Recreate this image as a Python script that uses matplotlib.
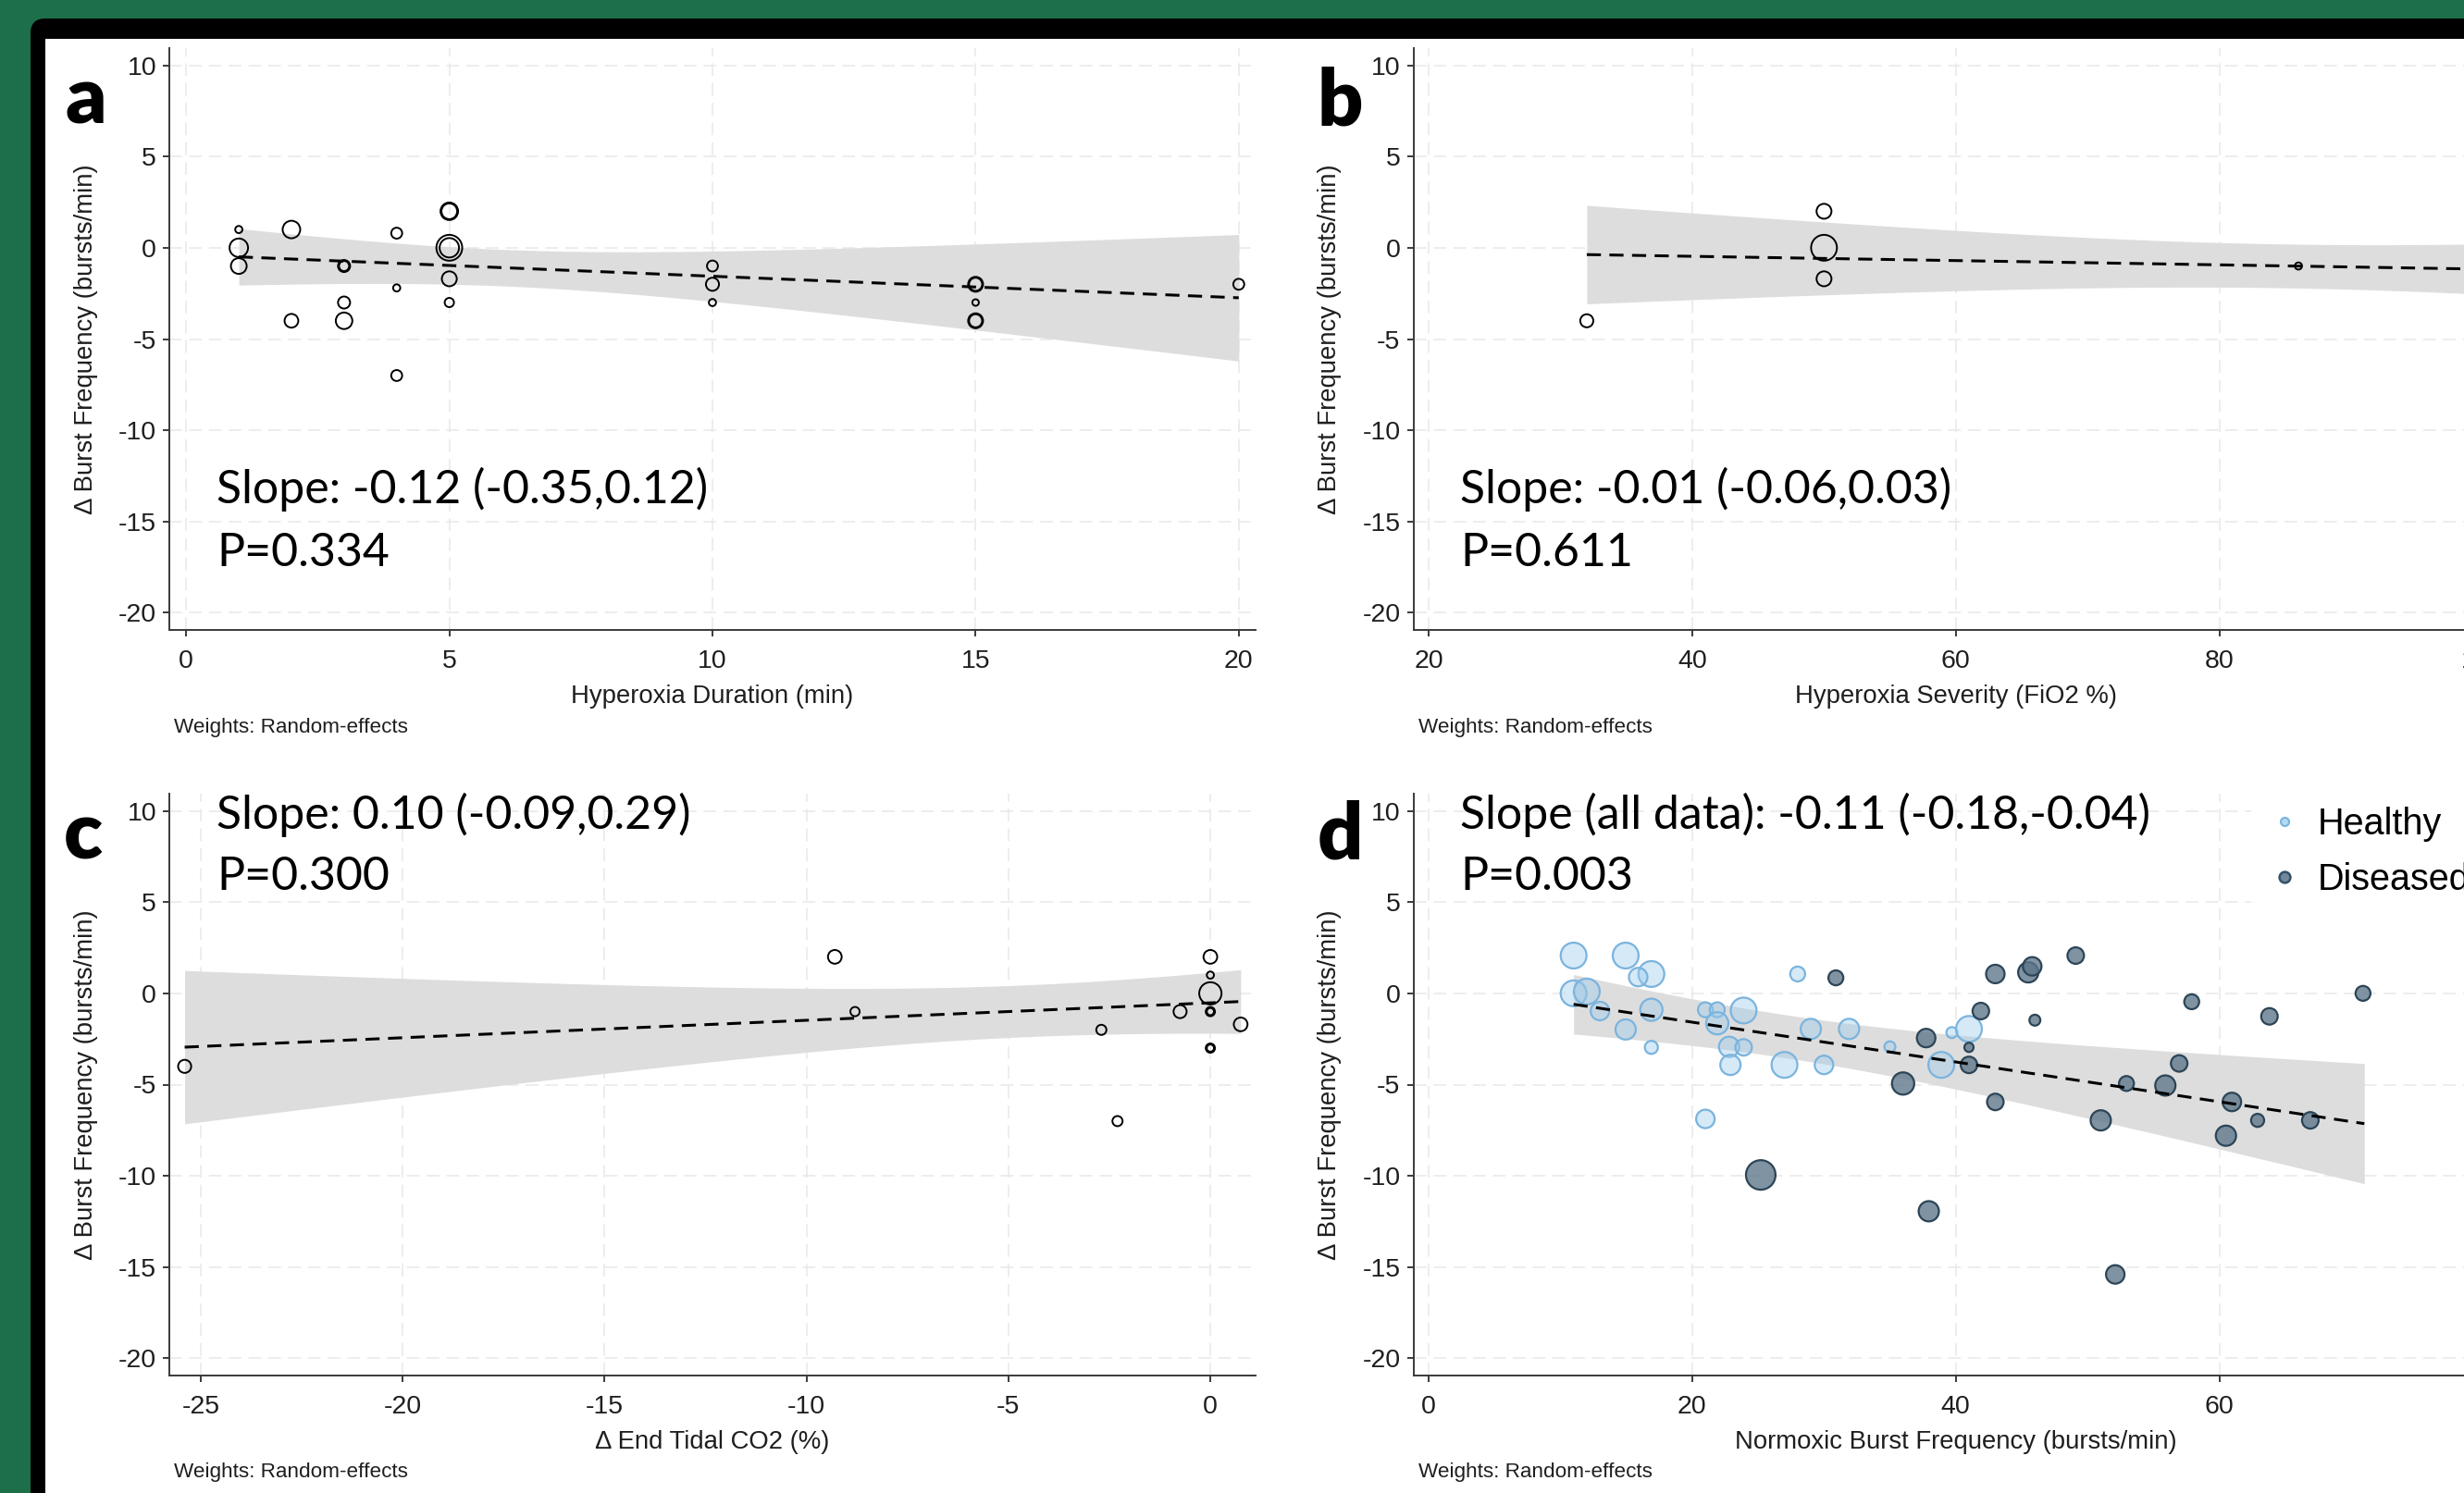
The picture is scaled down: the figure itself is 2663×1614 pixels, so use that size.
import numpy as np
import matplotlib
matplotlib.use("Agg")
import matplotlib.pyplot as plt
from matplotlib.patches import FancyBboxPatch, Rectangle
from matplotlib.lines import Line2D
from matplotlib.transforms import IdentityTransform

# --- data ---
# a: hyperoxia duration (min)
dur_x = [1, 1, 1, 2, 2, 3, 3, 3, 3, 4, 4, 4, 5, 5, 5, 5, 5, 5,
         10, 10, 10, 15, 15, 15, 15, 15, 20]
dur_y = [1, 0, -1, 1, -4, -1, -1, -3, -4, 0.8, -2.2, -7, 2, 2, 0, 0, -1.7, -3,
         -1, -2, -3, -2, -2, -3, -4, -4, -2]
dur_w = [0.6, 4.0, 2.9, 3.6, 2.2, 1.2, 1.7, 1.7, 3.2, 1.4, 0.6, 1.4, 2.9, 3.6, 7.8, 4.4, 2.6, 1.0,
         1.4, 2.0, 0.6, 2.0, 2.6, 0.5, 2.0, 2.6, 1.4]

# b: hyperoxia severity (FiO2 %)
fio2_x = [32, 50, 50, 50, 86]
fio2_y = [-4, 2, 0, -1.7, -1]
fio2_w = [2.0, 2.6, 7.8, 2.6, 0.6]

# c: change in end tidal CO2 (%)
co2_x = [-25.4, -9.3, -8.8, -2.7, -2.3, -0.75, 0, 0, 0, 0, 0, 0, 0, 0.75]
co2_y = [-4, 2, -1, -2, -7, -1, 2, 1, 0, -1, -1, -3, -3, -1.7]
co2_w = [2.0, 2.2, 1.0, 1.2, 1.2, 2.0, 2.2, 0.6, 5.8, 1.0, 0.6, 1.0, 0.6, 2.2]

# d: normoxic burst frequency, healthy vs diseased
healthy_x = [11.0, 14.95, 16.9, 15.9, 11.0, 12.0, 13.0, 14.95, 16.9, 16.9, 21.0, 21.9, 21.9, 23.9,
             22.8, 23.9, 22.9, 27.0, 30.0, 28.0, 29.0, 31.9, 35.0, 21.0, 39.7, 41.0, 38.9]
healthy_y = [2.07, 2.07, 1.06, 0.89, 0.0, 0.1, -0.97, -1.98, -0.9, -2.96, -0.9, -0.9, -1.64, -0.94,
             -2.93, -2.96, -3.92, -3.92, -3.92, 1.06, -1.95, -1.95, -2.93, -6.88, -2.15, -1.95, -3.92]
healthy_w = [7.8, 7.8, 7.8, 4.0, 7.8, 7.8, 4.0, 4.8, 5.8, 2.0, 2.6, 2.6, 5.8, 7.8,
             4.8, 3.2, 4.8, 7.8, 4.0, 2.6, 4.8, 4.8, 1.4, 4.0, 1.4, 7.8, 7.8]
diseased_x = [30.9, 43.0, 45.5, 45.8, 49.1, 70.9, 57.9, 63.8, 41.9, 46.0, 37.75, 41.0, 41.0,
              36.0, 43.0, 56.95, 52.95, 55.9, 60.95, 62.9, 66.9, 51.0, 60.5, 25.2, 37.95, 52.1]
diseased_y = [0.85, 1.06, 1.15, 1.48, 2.07, 0.0, -0.46, -1.26, -0.97, -1.47, -2.45, -2.96, -3.92,
              -4.94, -5.95, -3.84, -4.94, -5.05, -5.95, -6.96, -6.96, -6.96, -7.8, -9.95, -11.94, -15.4]
diseased_w = [2.6, 4.0, 4.8, 4.0, 3.2, 2.6, 2.6, 3.2, 3.2, 1.4, 4.0, 1.0, 3.2,
              5.8, 3.2, 3.2, 2.6, 4.8, 4.0, 2.0, 3.2, 4.8, 4.8, 10.2, 4.8, 4.0]

# meta-regression fits: intercept, slope, x of narrowest CI, CI half-width there, CI growth, x range
fit_a = dict(a=-0.38, b=-0.118, xm=6.0, h0=1.0, c=0.237, x0=1, x1=20)
fit_b = dict(a=0.0, b=-0.0117, xm=85.0, h0=1.2, c=0.0456, x0=32, x1=100)
fit_c = dict(a=-0.52, b=0.0956, xm=-4.6, h0=1.42, c=0.19, x0=-25.4, x1=0.75)
fit_d = dict(a=0.6, b=-0.109, xm=27.1, h0=1.18, c=0.07, x0=11, x1=71)

slope_txt = ["Slope: -0.12 (-0.35,0.12)", "Slope: -0.01 (-0.06,0.03)",
             "Slope: 0.10 (-0.09,0.29)", "Slope (all data): -0.11 (-0.18,-0.04)"]
p_txt = ["P=0.334", "P=0.611", "P=0.300", "P=0.003"]
x_labels = ["Hyperoxia Duration (min)", "Hyperoxia Severity (FiO2 %)",
            "\u0394 End Tidal CO2 (%)", "Normoxic Burst Frequency (bursts/min)"]
y_label = "\u0394 Burst Frequency (bursts/min)"
y_ticks = [10, 5, 0, -5, -10, -15, -20]

# --- figure setup ---
STATA = ["Liberation Sans", "DejaVu Sans"]
NOTE = ["Lato", "DejaVu Sans"]
plt.rcParams["font.family"] = STATA
plt.rcParams["axes.unicode_minus"] = False

W, H, DPI = 2663, 1614, 100
fig = plt.figure(figsize=(W / DPI, H / DPI), dpi=DPI, facecolor="#1d6f49")

# black slide frame + white panel
fig.add_artist(FancyBboxPatch((33, -80), W + 100, H - 20 + 80,
                              boxstyle="round,pad=0,rounding_size=16",
                              transform=IdentityTransform(), fc="black", ec="none", zorder=-10))
fig.add_artist(Rectangle((49, -80), W + 100, H - 42 + 80,
                         transform=IdentityTransform(), fc="white", ec="none", zorder=-9))


def box(x0, y0, x1, y1):
    return [x0 / W, 1 - y1 / H, (x1 - x0) / W, (y1 - y0) / H]


ax_a = fig.add_axes(box(183, 52, 1357, 681))
ax_b = fig.add_axes(box(1527.5, 52, 2700, 681))
ax_c = fig.add_axes(box(183, 858, 1357, 1487))
ax_d = fig.add_axes(box(1527.5, 858, 2700, 1487))

AX_COL = "#3a3a3a"
SCALE = 51.8  # marker area per unit weight


def style(ax, xlim, xticks, xlabel):
    ax.set_xlim(*xlim)
    ax.set_ylim(-20.94, 10.94)
    ax.set_xticks(xticks)
    ax.set_yticks(y_ticks)
    ax.set_facecolor("none")
    for s in ("top", "right"):
        ax.spines[s].set_visible(False)
    for s in ("left", "bottom"):
        ax.spines[s].set_color(AX_COL)
        ax.spines[s].set_linewidth(1.4)
    ax.tick_params(length=5, width=1.4, color=AX_COL, labelsize=20.5, labelcolor="#1e1e1e")
    ax.tick_params(axis="x", pad=10)
    ax.tick_params(axis="y", pad=5)
    ax.grid(True, color="#e8e8e8", linestyle=(0, (9, 5)), linewidth=1.1)
    ax.set_axisbelow(True)
    ax.set_xlabel(xlabel, fontsize=19.8, color="#1e1e1e")
    ax.xaxis.set_label_coords(0.5, -0.094)
    ax.set_ylabel(y_label, fontsize=19.8, color="#1e1e1e")
    ax.yaxis.set_label_coords(-0.066, 0.5)


def draw_fit(ax, f):
    xs = np.linspace(f["x0"], f["x1"], 200)
    yhat = f["a"] + f["b"] * xs
    hw = np.sqrt(f["h0"] ** 2 + (f["c"] * (xs - f["xm"])) ** 2)
    ax.fill_between(xs, yhat - hw, yhat + hw, color="#dddddd", lw=0, zorder=1)
    ax.plot(xs, yhat, color="black", lw=2.2, dashes=(5, 3), zorder=5)


def hollow(ax, x, y, w):
    ax.scatter(x, y, s=np.array(w) * SCALE, facecolors="none", edgecolors="black",
               linewidths=1.4, zorder=3)


def notes(ax, i, top):
    y1, y2 = (0.9396, 0.8347) if top else (0.2178, 0.1097)
    xt = 0.0434 if i % 2 == 0 else 0.043
    ax.text(xt, y1, slope_txt[i], transform=ax.transAxes, family=NOTE, fontsize=36, va="baseline")
    ax.text(xt, y2, p_txt[i], transform=ax.transAxes, family=NOTE, fontsize=36, va="baseline")


# a
style(ax_a, (-0.32, 20.32), [0, 5, 10, 15, 20], x_labels[0])
draw_fit(ax_a, fit_a)
hollow(ax_a, dur_x, dur_y, dur_w)
notes(ax_a, 0, False)

# b
style(ax_b, (18.84, 101.16), [20, 40, 60, 80, 100], x_labels[1])
draw_fit(ax_b, fit_b)
hollow(ax_b, fio2_x, fio2_y, fio2_w)
notes(ax_b, 1, False)

# c
style(ax_c, (-25.78, 1.12), [-25, -20, -15, -10, -5, 0], x_labels[2])
draw_fit(ax_c, fit_c)
hollow(ax_c, co2_x, co2_y, co2_w)
notes(ax_c, 2, True)

# d
H_FACE, H_EDGE = (0.62, 0.80, 0.93, 0.42), "#7ab4de"
D_FACE, D_EDGE = (0.36, 0.46, 0.54, 0.78), "#2c4556"
style(ax_d, (-1.16, 81.16), [0, 20, 40, 60, 80], x_labels[3])
draw_fit(ax_d, fit_d)
ax_d.scatter(healthy_x, healthy_y, s=np.array(healthy_w) * SCALE, facecolors=[H_FACE],
             edgecolors=H_EDGE, linewidths=1.6, zorder=3)
ax_d.scatter(diseased_x, diseased_y, s=np.array(diseased_w) * SCALE, facecolors=[D_FACE],
             edgecolors=D_EDGE, linewidths=1.6, zorder=4)
notes(ax_d, 3, True)
handles = [Line2D([], [], ls="none", marker="o", markersize=6.5, mfc="#b4d9f2", mec="#7ab4de", mew=1.5),
           Line2D([], [], ls="none", marker="o", markersize=8.5, mfc="#71889a", mec="#34506a", mew=1.8)]
ax_d.legend(handles, ["Healthy", "Diseased"], loc="upper left",
            bbox_to_anchor=(2433 / W, 1 - 856 / H), bbox_transform=fig.transFigure,
            borderaxespad=0, borderpad=0.4, handlelength=1.0, handletextpad=0.4,
            labelspacing=0.55, fontsize=28.5, frameon=True, facecolor="white",
            edgecolor="none", framealpha=1, fancybox=False)

# panel letters and weight notes
for lab, (lx, ly) in zip("abcd", [(71, 133), (1423, 136), (69, 929), (1424, 929)]):
    fig.text(lx / W, 1 - ly / H, lab, family=NOTE, fontsize=62, fontweight="heavy", va="baseline")
for wx, wy in [(187.5, 792), (1532.6, 792), (187.5, 1597), (1532.6, 1597)]:
    fig.text(wx / W, 1 - wy / H, "Weights: Random-effects", fontsize=16.2, color="#1e1e1e", va="baseline")

fig.savefig("out.png", dpi=DPI, facecolor=fig.get_facecolor())
